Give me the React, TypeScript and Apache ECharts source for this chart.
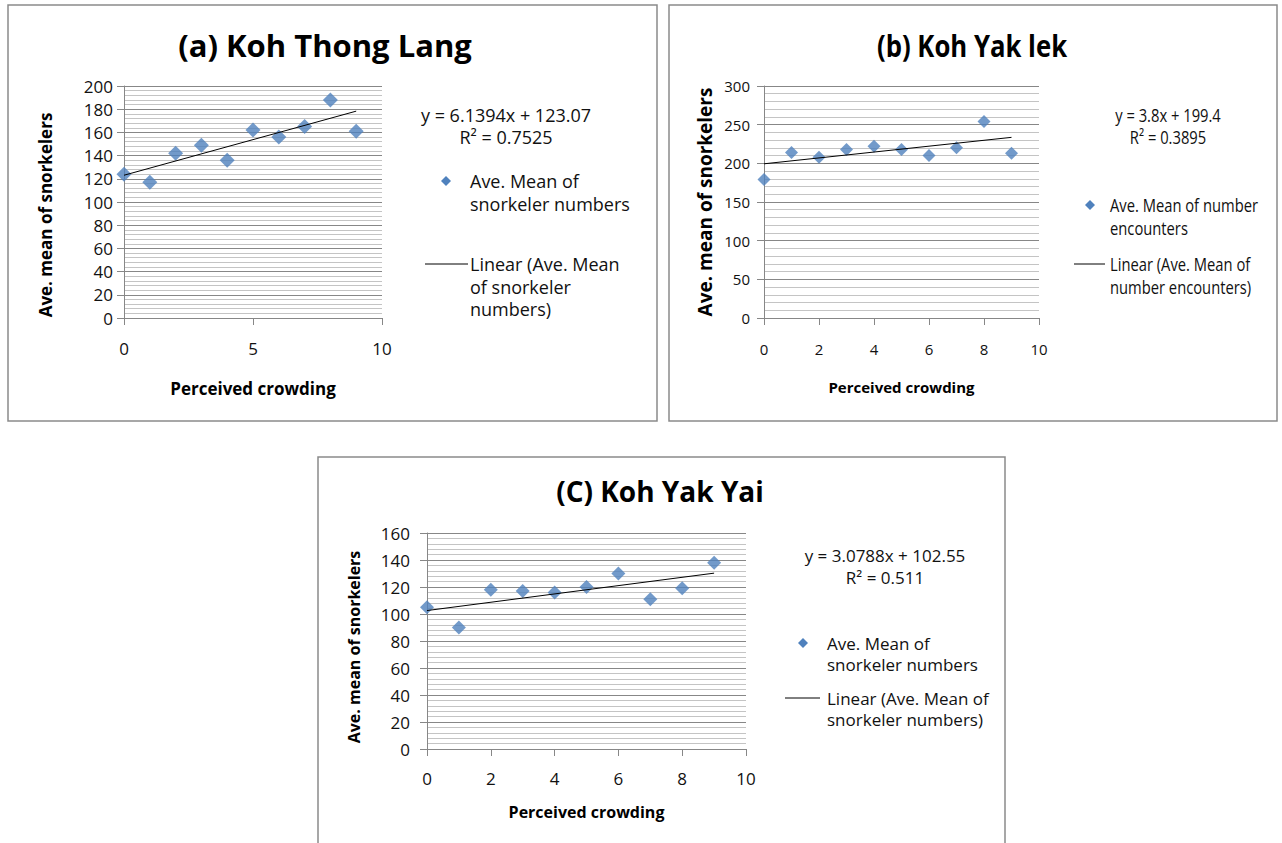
import { useEffect, useRef } from "react";
import * as echarts from "echarts";

// ---- data ----
const crowding = [0, 1, 2, 3, 4, 5, 6, 7, 8, 9];
const thongLang = [124, 117, 142, 149, 136, 162, 156, 165, 188, 161];
const yakLek = [179, 214, 208, 218, 222, 218, 210, 220, 254, 213];
const yakYai = [105, 90, 118, 117, 116, 120, 130, 111, 119, 138];
const trendThongLang = [[0, 123.07], [9, 178.32]];
const trendYakLek = [[0, 199.4], [9, 233.6]];
const trendYakYai = [[0, 102.55], [9, 130.26]];

const titles = ["(a) Koh Thong Lang", "(b) Koh Yak lek", "(C) Koh Yak Yai"];
const equations = ["y = 6.1394x + 123.07", "y = 3.8x + 199.4", "y = 3.0788x + 102.55"];
const rSquared = ["R² = 0.7525", "R² = 0.3895", "R² = 0.511"];
const seriesNames = [
  "Ave. Mean of\nsnorkeler numbers",
  "Ave. Mean of number\nencounters",
  "Ave. Mean of\nsnorkeler numbers",
];
const trendNames = [
  "Linear (Ave. Mean\nof snorkeler\nnumbers)",
  "Linear (Ave. Mean of\nnumber encounters)",
  "Linear (Ave. Mean of\nsnorkeler numbers)",
];
const yMax = [200, 300, 160];
const yStep = [20, 50, 20];
const xStep = [5, 2, 2];
const xTitle = "Perceived crowding";
const yTitle = "Ave. mean of snorkelers";

const FONT = "'Open Sans', 'Noto Sans', sans-serif";
const BLUE = "#4F81BD";
const MAJOR = "#878787";
const MINOR = "#c4c4c4";

export default function App() {
  const ref = useRef<HTMLDivElement>(null);

  useEffect(() => {
    if (!ref.current) return;
    const chart = echarts.init(ref.current, undefined, { renderer: "svg" });

    const grids = [
      { left: 124, top: 86, width: 258, height: 232 },
      { left: 764, top: 86, width: 275, height: 232 },
      { left: 427, top: 533, width: 319, height: 216 },
    ];
    const tickSize = [17, 15, 17];
    const tickLH = [18, 17, 19];
    const yLabelMargin = [11, 14, 17];
    const xLabelMargin = [21, 22, 20];
    const yNameGap = [70, 50, 65];
    const yNamePad = [[0, 26, 0, 0], [0, 0, 0, 0], [0, 12, 0, 0]];
    const xNameGap = [62, 61, 55];
    const xNameSize = [17, 15, 16];
    const yNameSize = [17, 19, 16];

    const xAxes = grids.map((_, i) => ({
      type: "value",
      gridIndex: i,
      min: 0,
      max: 10,
      interval: xStep[i],
      name: xTitle,
      nameLocation: "middle",
      nameGap: xNameGap[i],
      nameTextStyle: { fontFamily: FONT, fontSize: xNameSize[i], fontWeight: "bold", color: "#000" },
      axisLine: { show: true, onZero: false, lineStyle: { color: MAJOR, width: 1 } },
      axisTick: { show: true, length: 7, lineStyle: { color: MAJOR } },
      axisLabel: { fontFamily: FONT, fontSize: tickSize[i], lineHeight: tickLH[i], color: "#111", margin: xLabelMargin[i] },
      splitLine: { show: false },
    }));

    const yAxes = grids.map((_, i) => ({
      type: "value",
      gridIndex: i,
      min: 0,
      max: yMax[i],
      interval: yStep[i],
      name: yTitle,
      nameLocation: "middle",
      nameRotate: 90,
      nameGap: yNameGap[i],
      nameTextStyle: {
        fontFamily: FONT,
        fontSize: yNameSize[i],
        fontWeight: "bold",
        color: "#000",
        padding: yNamePad[i],
      },
      axisLine: { show: true, lineStyle: { color: MAJOR, width: 1 } },
      axisTick: { show: true, length: 7, lineStyle: { color: MAJOR } },
      axisLabel: { fontFamily: FONT, fontSize: tickSize[i], lineHeight: tickLH[i], color: "#111", margin: yLabelMargin[i] },
      splitLine: { show: true, lineStyle: { color: MAJOR, width: 1 } },
      minorTick: { show: false, splitNumber: 5 },
      minorSplitLine: { show: true, lineStyle: { color: MINOR, width: 1 } },
    }));

    const pointSets = [thongLang, yakLek, yakYai];
    const trends = [trendThongLang, trendYakLek, trendYakYai];
    const symbolSizes = [15, 13, 14];

    const series: any[] = [];
    pointSets.forEach((vals, i) => {
      series.push({
        type: "scatter",
        name: seriesNames[i],
        xAxisIndex: i,
        yAxisIndex: i,
        symbol: "diamond",
        symbolSize: symbolSizes[i],
        itemStyle: { color: BLUE },
        data: crowding.map((x, k) => [x, vals[k]]),
      });
      series.push({
        type: "line",
        name: trendNames[i],
        xAxisIndex: i,
        yAxisIndex: i,
        showSymbol: false,
        symbol: "none",
        lineStyle: { color: "#000", width: 1 },
        data: trends[i],
      });
    });

    // panel frames
    const frames = [
      { x: 8, y: 5, w: 649, h: 416 },
      { x: 669, y: 5, w: 608, h: 416 },
      { x: 318, y: 457, w: 687, h: 450 },
    ];

    // legend layout (decoration positions)
    const legendLayout = [
      { eqX: 506, eqY: 115, rY: 137, dX: 446, dY: 181, tX: 470, lX1: 425, lX2: 468, lY: 264, size: 18, lh: 22.5, sx: 1 },
      { eqX: 1168, eqY: 115, rY: 137, dX: 1090, dY: 205, tX: 1110, lX1: 1074, lX2: 1105, lY: 264, size: 18, lh: 23, sx: 0.82 },
      { eqX: 885, eqY: 555, rY: 577, dX: 803, dY: 643, tX: 827, lX1: 785, lX2: 820, lY: 698, size: 17, lh: 21.5, sx: 1 },
    ];

    const graphic: any[] = [];
    frames.forEach((f) => {
      graphic.push({
        type: "rect",
        shape: { x: f.x, y: f.y, width: f.w, height: f.h },
        style: { fill: "none", stroke: "#8a8a8a", lineWidth: 1.5 },
        z: -10,
        silent: true,
      });
    });
    const txt = (text: string, x: number, y: number, size: number, sx: number, align: string, vAlign: string, lh?: number, bold?: boolean, fill = "#111") => ({
      type: "text",
      x,
      y,
      scaleX: sx,
      style: {
        text,
        x: 0,
        y: 0,
        fontFamily: FONT,
        fontSize: size,
        fontWeight: bold ? "bold" : "normal",
        lineHeight: lh,
        fill,
        align,
        verticalAlign: vAlign,
      },
    });
    legendLayout.forEach((L, i) => {
      graphic.push(txt(equations[i], L.eqX, L.eqY, L.size, L.sx, "center", "middle"));
      graphic.push(txt(rSquared[i], L.eqX, L.rY, L.size, L.sx, "center", "middle"));
      const r = 5;
      graphic.push({
        type: "polygon",
        shape: { points: [[L.dX, L.dY - r], [L.dX + r, L.dY], [L.dX, L.dY + r], [L.dX - r, L.dY]] },
        style: { fill: BLUE },
      });
      graphic.push(txt(seriesNames[i], L.tX, L.dY - L.lh / 2, L.size, L.sx, "left", "top", L.lh));
      graphic.push({
        type: "line",
        shape: { x1: L.lX1, y1: L.lY, x2: L.lX2, y2: L.lY },
        style: { stroke: "#000", lineWidth: 1 },
      });
      graphic.push(txt(trendNames[i], L.tX, L.lY - L.lh / 2, L.size, L.sx, "left", "top", L.lh));
    });
    // title (b): condensed lettering as in the reference
    graphic.push(txt(titles[1], 972, 45, 31, 0.83, "center", "middle", undefined, true, "#000"));

    const titleCfg = [
      { i: 0, x: 325, y: 45, size: 31 },
      { i: 2, x: 660, y: 491, size: 28 },
    ];

    chart.setOption({
      animation: false,
      backgroundColor: "#fff",
      title: titleCfg.map((t) => ({
        text: titles[t.i],
        left: t.x,
        top: t.y,
        padding: 0,
        textAlign: "center",
        textVerticalAlign: "middle",
        textStyle: { fontFamily: FONT, fontSize: t.size, fontWeight: "bold", color: "#000" },
      })),
      grid: grids,
      xAxis: xAxes,
      yAxis: yAxes,
      series,
      graphic,
    });

    return () => chart.dispose();
  }, []);

  return (
    <div
      ref={ref}
      style={{ position: "fixed", left: 0, top: 0, width: 1282, height: 843, background: "#fff" }}
    />
  );
}
